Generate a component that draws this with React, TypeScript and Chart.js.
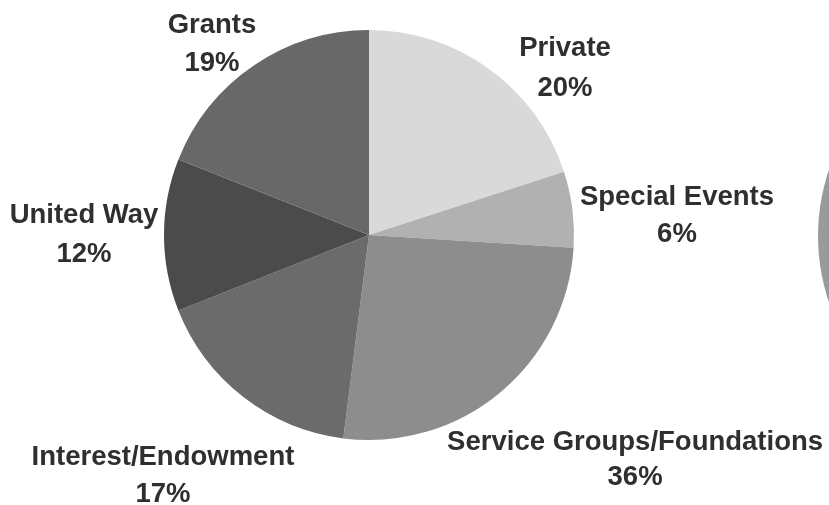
import React, { useEffect, useRef } from "react";
import { Chart, registerables } from "chart.js";

Chart.register(...registerables);

const categories = ["Private", "Special Events", "Service Groups/Foundations", "Interest/Endowment", "United Way", "Grants"];
const sliceValues = [20, 6, 26, 17, 12, 19];
const percentLabels = ["20%", "6%", "36%", "17%", "12%", "19%"];
const sliceColors = ["#d9d9d9", "#b1b1b1", "#8d8d8d", "#6b6b6b", "#4b4b4b", "#686868"];
// label offsets from the slice's mid-angle edge point (px), baseline of first line
const labelOffsets: [number, number][] = [
  [75.5, -13.2],
  [104.6, -4.3],
  [135.4, 57.1],
  [-80.4, 68],
  [-80, -12],
  [-41.8, -32.5],
];
const lineGaps = [40, 37, 35, 37, 39, 38];

const secondCategories = ["Other"];
const secondValues = [1];
const secondColors = ["#9a9a9a"];

const FONT = 'bold 27.5px "Liberation Sans", Arial, sans-serif';

const labelPlugin = {
  id: "outsideLabels",
  afterDatasetsDraw(chart: any) {
    const ctx = chart.ctx;
    const meta = chart.getDatasetMeta(0);
    ctx.save();
    ctx.font = FONT;
    ctx.fillStyle = "#2f2f2f";
    ctx.textAlign = "center";
    ctx.textBaseline = "alphabetic";
    meta.data.forEach((arc: any, i: number) => {
      const p = arc.getProps(["x", "y", "startAngle", "endAngle", "outerRadius"], true);
      const mid = (p.startAngle + p.endAngle) / 2;
      const ex = p.x + p.outerRadius * Math.cos(mid);
      const ey = p.y + p.outerRadius * Math.sin(mid);
      const lx = ex + labelOffsets[i][0];
      const ly = ey + labelOffsets[i][1];
      ctx.fillText(categories[i], lx, ly);
      ctx.fillText(percentLabels[i], lx, ly + lineGaps[i]);
    });
    ctx.restore();
  },
};

export default function App() {
  const mainRef = useRef<HTMLCanvasElement>(null);
  const secondRef = useRef<HTMLCanvasElement>(null);

  useEffect(() => {
    document.body.style.margin = "0";
    const c1 = new Chart(mainRef.current!, {
      type: "pie",
      data: {
        labels: categories,
        datasets: [
          {
            data: sliceValues,
            backgroundColor: sliceColors,
            borderWidth: 0,
          },
        ],
      },
      options: {
        responsive: false,
        animation: false,
        layout: { padding: { left: 164, right: 255, top: 30, bottom: 65 } },
        plugins: { legend: { display: false }, tooltip: { enabled: false } },
      },
      plugins: [labelPlugin],
    });
    const c2 = new Chart(secondRef.current!, {
      type: "pie",
      data: {
        labels: secondCategories,
        datasets: [{ data: secondValues, backgroundColor: secondColors, borderWidth: 0 }],
      },
      options: {
        responsive: false,
        animation: false,
        layout: { padding: 0 },
        plugins: { legend: { display: false }, tooltip: { enabled: false } },
      },
    });
    return () => {
      c1.destroy();
      c2.destroy();
    };
  }, []);

  return (
    <div style={{ position: "relative", width: 829, height: 505, overflow: "hidden", background: "#fff" }}>
      <canvas ref={mainRef} width={829} height={505} style={{ position: "absolute", left: 0, top: 0 }} />
      <canvas ref={secondRef} width={410} height={410} style={{ position: "absolute", left: 818, top: 31 }} />
    </div>
  );
}
